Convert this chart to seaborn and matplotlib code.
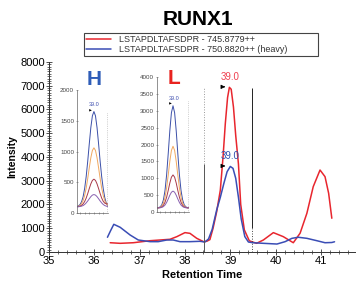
import matplotlib

matplotlib.use("Agg")

import matplotlib.pyplot as plt
import seaborn as sns
from matplotlib.ticker import MultipleLocator

# main traces (retention time in min, intensity)
RED_RT = [36.35, 36.57, 36.86, 37.23, 37.45, 37.67, 37.82, 38.00, 38.11, 38.26, 38.41, 38.48,
          38.55, 38.62, 38.70, 38.78, 38.84, 38.89, 38.94, 38.98, 39.02, 39.07, 39.12, 39.18,
          39.23, 39.31, 39.42, 39.58, 39.73, 39.95, 40.17, 40.39, 40.54, 40.69, 40.83, 40.98,
          41.09, 41.17, 41.24]
RED_INT = [390, 365, 390, 475, 505, 535, 645, 815, 785, 575, 435, 450,
           520, 1000, 1700, 2600, 4000, 5400, 6500, 6930, 6850, 6100, 4900, 3700,
           2000, 930, 470, 365, 505, 815, 645, 390, 790, 1630, 2750, 3450,
           3170, 2470, 1420]

BLUE_RT = [36.29, 36.36, 36.43, 36.57, 36.79, 36.97, 37.23, 37.41, 37.60, 37.74, 37.89, 38.11,
           38.33, 38.44, 38.52, 38.60, 38.70, 38.78, 38.86, 38.93, 39.00, 39.06, 39.12, 39.18,
           39.24, 39.32, 39.40, 39.50, 39.73, 40.03, 40.21, 40.36, 40.50, 40.69, 40.91, 41.09,
           41.24, 41.30]
BLUE_INT = [620, 900, 1165, 1040, 715, 505, 435, 435, 505, 505, 435, 435,
            450, 420, 550, 950, 1770, 2300, 2900, 3380, 3600, 3520, 3100, 2300,
            1400, 650, 420, 390, 365, 335, 435, 575, 620, 575, 475, 390,
            400, 430]

LEGEND_LABELS = ["LSTAPDLTAFSDPR - 745.8779++", "LSTAPDLTAFSDPR - 750.8820++ (heavy)"]
PEAK_RT = 39.0
BOUNDARIES = [38.42, 39.48]

# inset transitions (sample index scale)
INSET_X = [0, 0.5, 1, 1.5, 2, 2.5, 3, 3.5, 4, 4.5, 5, 5.5, 6, 6.5, 7, 7.5, 8, 8.5, 9, 9.5, 10]
H_BLUE = [106, 116, 137, 182, 263, 398, 593, 844, 1126, 1390, 1580, 1650, 1580, 1390, 1126, 844, 593, 398, 250, 160, 110]
H_ORANGE = [104, 110, 123, 151, 201, 284, 405, 561, 736, 899, 1017, 1060, 1017, 899, 736, 561, 405, 284, 201, 151, 123]
H_DARKRED = [102, 104, 111, 124, 147, 186, 243, 316, 398, 474, 530, 550, 530, 474, 398, 316, 243, 190, 160, 150, 150]
H_PURPLE = [101, 102, 105, 111, 121, 138, 164, 196, 232, 266, 291, 300, 291, 266, 232, 196, 164, 138, 121, 111, 105]

L_BLUE = [123, 129, 153, 214, 359, 638, 1099, 1726, 2405, 2944, 3150, 2944, 2405, 1726, 1099, 638, 359, 214, 153, 129, 123]
L_ORANGE = [122, 125, 140, 177, 265, 433, 711, 1090, 1500, 1826, 1950, 1826, 1500, 1090, 711, 433, 265, 177, 140, 125, 122]
L_DARKRED = [121, 123, 131, 150, 197, 288, 437, 639, 859, 1033, 1100, 1033, 859, 639, 437, 288, 197, 150, 131, 123, 121]
L_PURPLE = [121, 122, 126, 136, 160, 206, 282, 385, 497, 586, 620, 586, 497, 385, 282, 206, 160, 136, 126, 122, 121]

RED = "#e8262e"
BLUE = "#3a4db5"
INSET_COLORS = ["#3b4fa8", "#f0a860", "#a83848", "#8860b0"]

sns.set_style("ticks")
plt.rcParams["font.family"] = ["Liberation Sans", "DejaVu Sans"]
plt.rcParams["text.color"] = "black"
plt.rcParams["axes.labelcolor"] = "black"

fig = plt.figure(figsize=(3.56, 2.84), dpi=100)
ax = fig.add_axes([0.1376, 0.1127, 0.8594, 0.6693])

sns.lineplot(x=RED_RT, y=RED_INT, ax=ax, color=RED, linewidth=1.1, label=LEGEND_LABELS[0])
sns.lineplot(x=BLUE_RT, y=BLUE_INT, ax=ax, color=BLUE, linewidth=1.1, label=LEGEND_LABELS[1])

# integration boundaries
ax.vlines(BOUNDARIES[0], 0, 3700, color="#555555", linewidth=0.7)
ax.vlines(BOUNDARIES[0], 3700, 6900, color="#999999", linewidth=0.7, linestyles=":")
ax.vlines(BOUNDARIES[1], 1000, 6900, color="#222222", linewidth=0.7)
ax.vlines(BOUNDARIES[1], 0, 1000, color="#444444", linewidth=0.7, linestyles=":")

# peak labels
ax.text(PEAK_RT, 7350, "39.0", color="#f04050", fontsize=7, ha="center", va="center")
ax.text(PEAK_RT, 4020, "39.0", color="#3050b0", fontsize=7, ha="center", va="center")
for y in [6950, 3620]:
    ax.annotate("", xy=(38.95, y), xytext=(38.79, y),
                arrowprops=dict(arrowstyle="-|>", color="black", lw=0.6, mutation_scale=6))

ax.set_xlim(35, 41.75)
ax.set_ylim(0, 8000)
ax.set_xticks(range(35, 42))
ax.set_yticks(range(0, 8001, 1000))
ax.xaxis.set_minor_locator(MultipleLocator(0.2))
ax.yaxis.set_minor_locator(MultipleLocator(100))
ax.tick_params(which="major", direction="inout", length=4, width=0.6, labelsize=8, pad=1, colors="#333333", labelcolor="black")
ax.tick_params(which="minor", direction="inout", length=2.5, width=0.5, colors="#333333")
for s in ["top", "right"]:
    ax.spines[s].set_visible(False)
for s in ["left", "bottom"]:
    ax.spines[s].set_linewidth(0.7)
    ax.spines[s].set_color("#333333")

ax.set_xlabel("Retention Time", fontsize=8, fontweight="bold", labelpad=3)
ax.set_ylabel("Intensity", fontsize=7.5, fontweight="bold", labelpad=2)

leg = ax.legend(loc="upper left", bbox_to_anchor=(0.236, 0.799, 0.657, 0.085),
                bbox_transform=fig.transFigure, mode="expand", borderaxespad=0,
                fontsize=6.5, handlelength=2.7, handletextpad=0.9, labelspacing=0.1,
                borderpad=0.25, fancybox=False, framealpha=1)
leg.get_frame().set_edgecolor("#444444")
leg.get_frame().set_linewidth(0.8)
for txt in leg.get_texts():
    txt.set_color("#333333")

fig.text(0.555, 0.931, "RUNX1", fontsize=15, fontweight="bold", ha="center", va="center", color="black")


def draw_inset(rect, curves, ymax, step, label, label_color, label_xy, tag_xy, arrow_x, arrow_y):
    iax = fig.add_axes(rect)
    for vals, col in zip(curves, INSET_COLORS):
        sns.lineplot(x=INSET_X, y=vals, ax=iax, color=col, linewidth=0.7)
    iax.set_xlim(0, 10)
    iax.set_ylim(0, ymax)
    iax.set_yticks(range(0, ymax + 1, step))
    iax.set_xticks([1, 2.5, 4, 5.5, 7, 8.5])
    iax.set_xticklabels([])
    iax.tick_params(axis="y", direction="inout", length=2, width=0.4, labelsize=4.5, pad=1, colors="#666666", labelcolor="#444444")
    iax.tick_params(axis="x", direction="inout", length=2, width=0.4, colors="#666666")
    for s in ["top", "right"]:
        iax.spines[s].set_visible(False)
    for s in ["left", "bottom"]:
        iax.spines[s].set_linewidth(0.5)
        iax.spines[s].set_color("#666666")
    iax.patch.set_alpha(0)
    iax.vlines(9.8, 0, ymax * 0.82, color="#aaaaaa", linewidth=0.5, linestyles=":")
    iax.text(tag_xy[0], tag_xy[1], "39.0", color="#4050b0", fontsize=4, ha="center", va="center")
    iax.annotate("", xy=(arrow_x[1], arrow_y), xytext=(arrow_x[0], arrow_y),
                 arrowprops=dict(arrowstyle="-|>", color="black", lw=0.4, mutation_scale=3))
    fig.text(label_xy[0], label_xy[1], label, color=label_color, fontsize=15,
             fontweight="bold", ha="center", va="center")
    return iax


draw_inset([0.216, 0.25, 0.087, 0.433], [H_BLUE, H_ORANGE, H_DARKRED, H_PURPLE], 2000, 500,
           "H", "#2f5db8", (0.265, 0.72), (5.5, 1760), (3.4, 4.8), 1670)
draw_inset([0.441, 0.2535, 0.09, 0.475], [L_BLUE, L_ORANGE, L_DARKRED, L_PURPLE], 4000, 500,
           "L", "#e8231f", (0.489, 0.723), (5.2, 3380), (3.1, 4.6), 3220)

fig.savefig("out.png", dpi=100)
